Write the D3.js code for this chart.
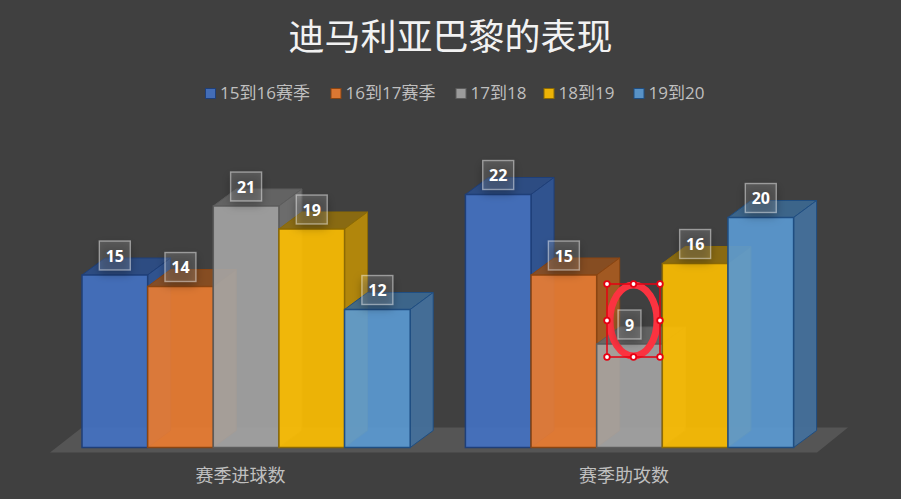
<!DOCTYPE html>
<html>
<head>
<meta charset="utf-8">
<script src="https://cdn.jsdelivr.net/npm/d3@7"></script>
<style>
    html, body { margin: 0; padding: 0; background: #404040; overflow: hidden; }
    text { font-family: "Open Sans", "Noto Sans CJK SC", sans-serif; }
</style>
</head>
<body>
<div id="chart"></div>
<script>
// chart data
let chartTitle = "迪马利亚巴黎的表现";
let categories = ["赛季进球数", "赛季助攻数"];
let seasons = ["15到16赛季", "16到17赛季", "17到18", "18到19", "19到20"];
let goals = [15, 14, 21, 19, 12];
let assists = [22, 15, 9, 16, 20];

// front, side, top and edge colour per season
let frontColors = ["#4472c4", "#ed7d31", "#a5a5a5", "#ffc000", "#5b9bd5"];
let sideColors = ["#2f5596", "#a95b20", "#707070", "#bb8c08", "#44719d"];
let topColors = ["#2b4d88", "#8c4e20", "#666666", "#8f6e0e", "#3c6890"];
let edgeColors = ["#1f3f78", "#8a4512", "#5c5c5c", "#8c6a05", "#1f4e82"];
let legendX = [205.5, 331, 456, 544, 634];

let width = 901, height = 499;
let depthX = 23, depthY = 17;

let svg = d3.select("#chart").append("svg")
    .attr("width", width)
    .attr("height", height)
    .style("display", "block");

// soft shadow under the value labels
let shadow = svg.append("defs").append("filter")
    .attr("id", "labelShadow")
    .attr("x", "-50%").attr("y", "-50%")
    .attr("width", "200%").attr("height", "200%");
shadow.append("feGaussianBlur").attr("stdDeviation", 5);

svg.append("rect").attr("width", width).attr("height", height).attr("fill", "#404040");

// title
svg.append("text")
    .attr("x", 450.5)
    .attr("y", 50)
    .attr("text-anchor", "middle")
    .attr("font-size", 36)
    .attr("fill", "#f2f2f2")
    .text(chartTitle);

// legend
let legend = svg.selectAll(".legend-item")
    .data(seasons)
    .enter()
    .append("g")
    .attr("class", "legend-item")
    .attr("transform", (d, i) => `translate(${legendX[i]}, 88.5)`);

legend.append("rect")
    .attr("width", 10)
    .attr("height", 10)
    .attr("fill", (d, i) => frontColors[i])
    .attr("fill-opacity", 0.9)
    .attr("stroke", (d, i) => edgeColors[i])
    .attr("stroke-width", 1);

legend.append("text")
    .attr("x", 14.5)
    .attr("y", 10)
    .attr("font-size", 17)
    .attr("fill", "#bfbfbf")
    .text(d => d);

// scales
let x0 = d3.scaleBand()
    .domain(categories)
    .range([82, 793.6])
    .paddingInner(0.144);

let x1 = d3.scaleBand()
    .domain(seasons)
    .range([0, x0.bandwidth()]);

let y = d3.scaleLinear()
    .domain([0, 22])
    .range([447.5, 194.5]);

// floor
let floorTop = y(0) - 20, floorBottom = y(0) + 5;
svg.append("polygon")
    .attr("points", [[50, floorBottom], [82, floorTop], [848, floorTop], [817, floorBottom]].join(" "))
    .attr("fill", "#555555");

// bars
let rows = [];
categories.forEach((c, g) => {
    let values = g === 0 ? goals : assists;
    seasons.forEach((s, i) => rows.push({category: c, season: s, index: i, value: values[i]}));
});

let bars = svg.selectAll(".bar")
    .data(rows)
    .enter()
    .append("g")
    .attr("class", "bar")
    .each(function(d) {
        let bar = d3.select(this);
        let left = x0(d.category) + x1(d.season);
        let right = left + x1.bandwidth();
        let top = y(d.value);
        let bottom = y(0);
        let edge = edgeColors[d.index];

        // top face
        bar.append("polygon")
            .attr("points", [[left, top], [left + depthX, top - depthY], [right + depthX, top - depthY], [right, top]].join(" "))
            .attr("fill", topColors[d.index])
            .attr("fill-opacity", 0.92)
            .attr("stroke", edge);

        // side face
        bar.append("polygon")
            .attr("points", [[right, top], [right + depthX, top - depthY], [right + depthX, bottom - depthY], [right, bottom]].join(" "))
            .attr("fill", sideColors[d.index])
            .attr("fill-opacity", 0.92)
            .attr("stroke", edge);

        // front face, see through so the bar before it shows
        bar.append("rect")
            .attr("x", left)
            .attr("y", top)
            .attr("width", x1.bandwidth())
            .attr("height", bottom - top)
            .attr("fill", frontColors[d.index])
            .attr("fill-opacity", 0.9)
            .attr("stroke", edge)
            .attr("stroke-width", 1.5);
    });

// annotation drawn by hand on the original, sits under the labels
let mark = svg.append("g");
let markBox = {x: 607, y: 284, w: 53, h: 73};
mark.append("ellipse")
    .attr("cx", markBox.x + markBox.w / 2)
    .attr("cy", markBox.y + markBox.h / 2)
    .attr("rx", markBox.w / 2 - 3)
    .attr("ry", markBox.h / 2 - 1)
    .attr("fill", "none")
    .attr("stroke", "#fb3340")
    .attr("stroke-width", 7);
mark.append("rect")
    .attr("x", markBox.x)
    .attr("y", markBox.y)
    .attr("width", markBox.w)
    .attr("height", markBox.h)
    .attr("fill", "none")
    .attr("stroke", "#e60012")
    .attr("stroke-width", 1.5);
[0, 0.5, 1].forEach(a => [0, 0.5, 1].forEach(b => {
    if (a === 0.5 && b === 0.5) return;
    mark.append("circle")
        .attr("cx", markBox.x + a * markBox.w)
        .attr("cy", markBox.y + b * markBox.h)
        .attr("r", 2.8)
        .attr("fill", "#ffffff")
        .attr("stroke", "#e60012")
        .attr("stroke-width", 1.8);
}));

// value labels
let labels = svg.selectAll(".value-label")
    .data(rows)
    .enter()
    .append("g")
    .attr("class", "value-label")
    .attr("transform", d => `translate(${x0(d.category) + x1(d.season) + x1.bandwidth() / 2}, ${y(d.value) - 19.5})`);

labels.append("rect")
    .attr("x", d => d.value < 10 ? -11.5 : -15.5)
    .attr("y", -14.5 + 4)
    .attr("width", d => d.value < 10 ? 23 : 31)
    .attr("height", 29)
    .attr("fill", "#000000")
    .attr("fill-opacity", 0.3)
    .attr("filter", "url(#labelShadow)");

labels.append("rect")
    .attr("x", d => d.value < 10 ? -11.5 : -15.5)
    .attr("y", -14.5)
    .attr("width", d => d.value < 10 ? 23 : 31)
    .attr("height", 29)
    .attr("fill", "#ffffff")
    .attr("fill-opacity", 0.15)
    .attr("stroke", "#ffffff")
    .attr("stroke-opacity", 0.45)
    .attr("stroke-width", 1.4);

labels.append("text")
    .attr("y", 6)
    .attr("text-anchor", "middle")
    .attr("font-size", 16)
    .attr("font-weight", "bold")
    .attr("fill", "#ffffff")
    .text(d => d.value);

// category axis
let axis = svg.append("g")
    .attr("transform", `translate(-5.5, ${y(0)})`)
    .call(d3.axisBottom(x0).tickSize(0).tickPadding(22));
axis.select(".domain").remove();
axis.selectAll("text")
    .attr("font-size", 18)
    .attr("font-family", "\"Open Sans\", \"Noto Sans CJK SC\", sans-serif")
    .attr("fill", "#bfbfbf");
</script>
</body>
</html>
